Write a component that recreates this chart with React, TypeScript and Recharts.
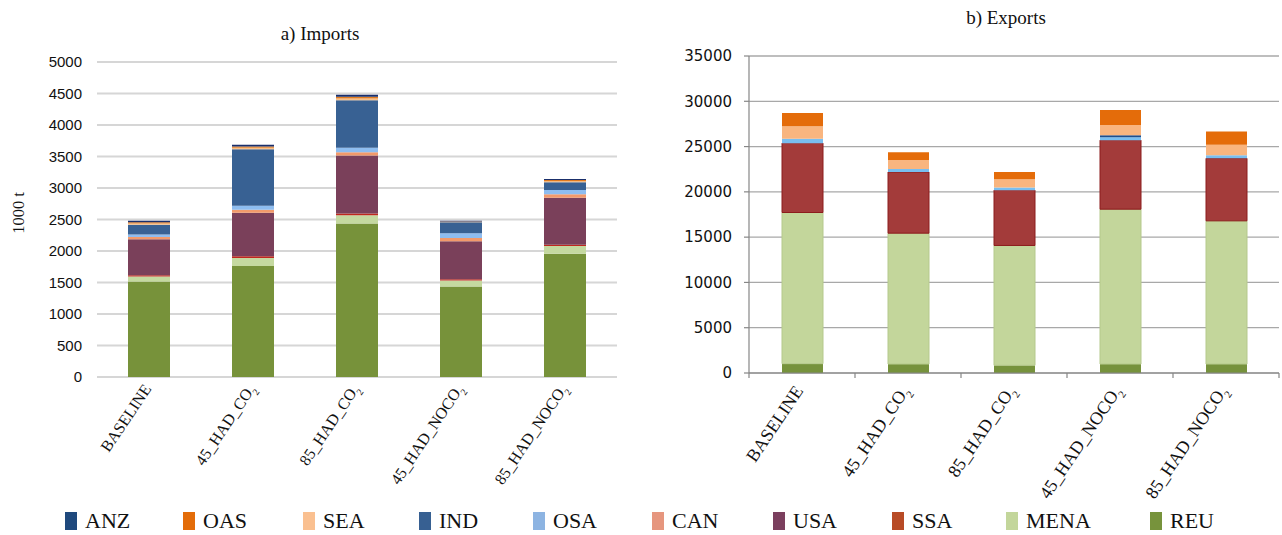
import React from "react";
import { BarChart, Bar, XAxis, YAxis, CartesianGrid } from "recharts";

// scenario names; the trailing "2" of CO2 is drawn as a subscript
const scenarios = ["BASELINE", "45_HAD_CO2", "85_HAD_CO2", "45_HAD_NOCO2", "85_HAD_NOCO2"];

// stack order, bottom to top
const regions = ["REU", "MENA", "SSA", "USA", "CAN", "OSA", "IND", "SEA", "OAS", "ANZ"];
// legend order, left to right
const legendOrder = ["ANZ", "OAS", "SEA", "IND", "OSA", "CAN", "USA", "SSA", "MENA", "REU"];

// a) imports, 1000 t
const importsREU = [1516, 1761, 2436, 1436, 1957];
const importsMENA = [80, 127, 133, 96, 123];
const importsSSA = [20, 27, 27, 21, 21];
const importsUSA = [570, 691, 920, 601, 745];
const importsCAN = [37, 48, 53, 53, 53];
const importsOSA = [38, 64, 69, 75, 69];
const importsIND = [154, 899, 756, 176, 123];
const importsSEA = [21, 21, 26, 5, 16];
const importsOAS = [21, 22, 27, 5, 21];
const importsANZ = [22, 26, 32, 11, 16];

// b) exports, 1000 t
const exportsREU = [1030, 990, 850, 990, 990];
const exportsMENA = [16690, 14450, 13230, 17100, 15810];
const exportsSSA = [7660, 6750, 6110, 7620, 6900];
const exportsUSA = [0, 0, 0, 0, 0];
const exportsCAN = [0, 0, 0, 0, 0];
const exportsOSA = [480, 330, 300, 330, 330];
const exportsIND = [0, 0, 0, 220, 0];
const exportsSEA = [1370, 1000, 890, 1110, 1180];
const exportsOAS = [1480, 850, 810, 1670, 1450];
const exportsANZ = [0, 0, 0, 0, 0];

const importTicks = [0, 500, 1000, 1500, 2000, 2500, 3000, 3500, 4000, 4500, 5000];
const exportTicks = [0, 5000, 10000, 15000, 20000, 25000, 30000, 35000];

const importsData = scenarios.map((scenario, i) => ({
  scenario,
  REU: importsREU[i],
  MENA: importsMENA[i],
  SSA: importsSSA[i],
  USA: importsUSA[i],
  CAN: importsCAN[i],
  OSA: importsOSA[i],
  IND: importsIND[i],
  SEA: importsSEA[i],
  OAS: importsOAS[i],
  ANZ: importsANZ[i],
}));

const exportsData = scenarios.map((scenario, i) => ({
  scenario,
  REU: exportsREU[i],
  MENA: exportsMENA[i],
  SSA: exportsSSA[i],
  USA: exportsUSA[i],
  CAN: exportsCAN[i],
  OSA: exportsOSA[i],
  IND: exportsIND[i],
  SEA: exportsSEA[i],
  OAS: exportsOAS[i],
  ANZ: exportsANZ[i],
}));

const importColors: Record<string, string> = {
  REU: "#77923a",
  MENA: "#c5d9a0",
  SSA: "#c0281e",
  USA: "#7a405a",
  CAN: "#f29a6b",
  OSA: "#8ebdf0",
  IND: "#386193",
  SEA: "#f7c08a",
  OAS: "#e07b20",
  ANZ: "#1a2f6b",
};

const exportColors: Record<string, string> = {
  REU: "#76923c",
  MENA: "#c3d69b",
  SSA: "#a33b3a",
  USA: "#7b3f5e",
  CAN: "#e6967e",
  OSA: "#79bef0",
  IND: "#1f4e8c",
  SEA: "#f9b57f",
  OAS: "#e46c0a",
  ANZ: "#1f497d",
};

const legendColors: Record<string, string> = {
  ANZ: "#1f497d",
  OAS: "#e36c09",
  SEA: "#fac090",
  IND: "#376092",
  OSA: "#8db4e2",
  CAN: "#e6967e",
  USA: "#7b3f5e",
  SSA: "#b84b26",
  MENA: "#c3d69b",
  REU: "#77933c",
};

const legendX = [65, 183, 303, 419, 533, 652, 773, 892, 1006, 1150];

const SERIF = "Liberation Serif, Times New Roman, serif";
const serifStyle = { fontFamily: SERIF };

function ScenarioTick(props: any) {
  const { x, y, payload, index, fontSize, offsetX, offsetY, band, boundaryTicks } = props;
  const label: string = payload.value;
  const hasSub = label.endsWith("CO2");
  const main = hasSub ? label.slice(0, -1) : label;
  return (
    <g>
      {boundaryTicks && (
        <line x1={x - band / 2} x2={x - band / 2} y1={y} y2={y + 5} stroke="#868686" strokeWidth={1.2} />
      )}
      {boundaryTicks && index === scenarios.length - 1 && (
        <line x1={x + band / 2} x2={x + band / 2} y1={y} y2={y + 5} stroke="#868686" strokeWidth={1.2} />
      )}
      <g transform={`translate(${x + offsetX},${y + offsetY}) rotate(-56)`}>
        <text textAnchor="end" style={serifStyle} fontSize={fontSize} fill="#111">
          <tspan>{main}</tspan>
          {hasSub && (
            <tspan dy={fontSize * 0.3} fontSize={fontSize * 0.6}>
              2
            </tspan>
          )}
        </text>
      </g>
    </g>
  );
}

function ImportsChart() {
  return (
    <BarChart
      width={640}
      height={535}
      data={importsData}
      margin={{ top: 62, right: 23, left: 12, bottom: 0 }}
    >
      <CartesianGrid vertical={false} stroke="#d6d6d6" strokeWidth={2} />
      <XAxis
        dataKey="scenario"
        height={158}
        axisLine={false}
        tickLine={false}
        tickSize={0}
        tickMargin={0}
        interval={0}
        tick={(p: any) => (
          <ScenarioTick {...p} fontSize={16} offsetX={3} offsetY={12} band={104} boundaryTicks={false} />
        )}
      />
      <YAxis
        width={85}
        domain={[0, 5000]}
        ticks={importTicks}
        interval={0}
        axisLine={false}
        tickLine={false}
        tickSize={0}
        tickMargin={15}
        tick={{ fontFamily: "Liberation Sans, Arial, sans-serif", fontSize: 15, fill: "#111" }}
      />
      {regions.map((r) => (
        <Bar
          key={r}
          dataKey={r}
          stackId="imports"
          fill={importColors[r]}
          barSize={42}
          isAnimationActive={false}
        />
      ))}
    </BarChart>
  );
}

function ExportsChart() {
  return (
    <BarChart
      width={642}
      height={535}
      data={exportsData}
      margin={{ top: 56, right: 3, left: 0, bottom: 0 }}
    >
      <CartesianGrid vertical={false} stroke="#a8a8a8" strokeWidth={1.3} />
      <XAxis
        dataKey="scenario"
        height={162}
        axisLine={{ stroke: "#868686", strokeWidth: 1.2 }}
        tickLine={false}
        tickSize={0}
        tickMargin={0}
        interval={0}
        tick={(p: any) => (
          <ScenarioTick {...p} fontSize={18} offsetX={2} offsetY={18} band={106} boundaryTicks={true} />
        )}
      />
      <YAxis
        width={109}
        domain={[0, 35000]}
        ticks={exportTicks}
        interval={0}
        axisLine={{ stroke: "#868686", strokeWidth: 1.2 }}
        tickLine={{ stroke: "#868686", strokeWidth: 1.2 }}
        tickSize={5}
        tickMargin={12}
        tick={{ fontFamily: "DejaVu Sans, Verdana, sans-serif", fontSize: 15, fill: "#111" }}
      />
      {regions.map((r) => (
        <Bar
          key={r}
          dataKey={r}
          stackId="exports"
          fill={exportColors[r]}
          stroke={r === "SSA" ? "#8c1c1c" : r === "MENA" ? "#b5c98c" : undefined}
          strokeWidth={r === "SSA" || r === "MENA" ? 1 : 0}
          barSize={41}
          isAnimationActive={false}
        />
      ))}
    </BarChart>
  );
}

export default function App() {
  return (
    <div style={{ position: "absolute", left: 0, top: 0, width: 1282, height: 535, background: "#fff" }}>
      <div style={{ position: "absolute", left: 0, top: 0 }}>
        <ImportsChart />
      </div>
      <div style={{ position: "absolute", left: 640, top: 0 }}>
        <ExportsChart />
      </div>
      <svg
        width={1282}
        height={535}
        style={{ position: "absolute", left: 0, top: 0, pointerEvents: "none" }}
      >
        <text x={320} y={40} textAnchor="middle" style={serifStyle} fontSize={19} fill="#111">
          a) Imports
        </text>
        <text x={1006} y={24} textAnchor="middle" style={serifStyle} fontSize={19} fill="#111">
          b) Exports
        </text>
        <text
          transform="translate(24,213) rotate(-90)"
          textAnchor="middle"
          style={serifStyle}
          fontSize={16.5}
          fill="#111"
        >
          1000 t
        </text>
        {legendOrder.map((r, i) => (
          <g key={r}>
            <rect x={legendX[i]} y={512} width={12} height={18} fill={legendColors[r]} />
            <text x={legendX[i] + 20} y={528} style={serifStyle} fontSize={22} fill="#111">
              {r}
            </text>
          </g>
        ))}
      </svg>
    </div>
  );
}
